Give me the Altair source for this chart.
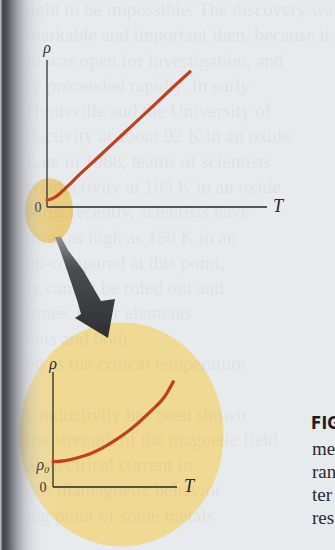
import altair as alt
import pandas as pd

PAGE = "#e8ebed"
INK = "#262626"
CURVE = "#c23f1d"
SERIF = "Liberation Serif, DejaVu Serif, serif"

# ---- data -------------------------------------------------------------
# main graph: resistivity of a metal over a wide temperature range
top_T = [0, 2, 4, 6, 8, 10, 13, 20, 30, 40, 50, 60, 65]
top_rho = [4.8, 5.5, 7.0, 9.3, 12.2, 15.0, 19.5, 29.3, 43.3, 57.2, 71.2, 85.2, 92.0]

# magnified view near T = 0: resistivity levels off at rho0
low_T = [0, 10, 20, 30, 40, 50, 60, 70, 80, 90, 97]
low_rho = [22, 23, 25.5, 29, 34, 40.5, 48, 57, 67, 78.5, 91.5]

# faint text showing through from the page behind
page_lines = [
    "ught to be impossible. The discovery was re-",
    "markable and important then, because it",
    "ld was open for investigation, and",
    "ry proceeded rapidly. In early",
    "Huntsville and the University of",
    "ductivity at about 92 K in an oxide",
    "Late in 1988, teams of scientists",
    "conductivity at 105 K in an oxide",
    "Most recently, scientists have",
    "tures as high as 150 K in an",
    "en-compared at this point,",
    "ly cannot be ruled out and",
    "times. Other elements",
    "ants and both",
    "ed as the critical temperature",
    "",
    "conductivity has been shown",
    "the strength of the magnetic field",
    "al electrical current in",
    "ous diamagnetic behavior",
    "ing point of some metals",
    "",
]

caption_head = "FIG"
caption_lines = ["me", "ran", "ter", "res"]

one = alt.Data(values=[{}])


def shape_layer(path, fill, x=0, y=0):
    return alt.Chart(one).mark_point(
        shape=path, size=4, filled=True, fill=fill, strokeWidth=0, opacity=1
    ).encode(x=alt.value(x), y=alt.value(y))


def ellipse(rx, ry):
    return (f"M {-rx} 0 A {rx} {ry} 0 1 0 {rx} 0 "
            f"A {rx} {ry} 0 1 0 {-rx} 0 Z")


def panel(T, rho, xs, ys, rho_label_dy, t_dx, zero_dx, lw):
    axes_df = pd.DataFrame({"x0": [0, 0], "x1": [100, 0],
                            "y0": [0, 0], "y1": [0, 100]})
    axes = alt.Chart(axes_df).mark_rule(color=INK, strokeWidth=1.3).encode(
        x=alt.X("x0:Q", scale=xs, axis=None), x2="x1",
        y=alt.Y("y0:Q", scale=ys, axis=None), y2="y1",
    )
    curve = alt.Chart(pd.DataFrame({"T": T, "rho": rho})).mark_line(
        color=CURVE, strokeWidth=lw, strokeCap="round", interpolate="monotone"
    ).encode(
        x=alt.X("T:Q", scale=xs, axis=None),
        y=alt.Y("rho:Q", scale=ys, axis=None),
    )

    def label(text, tx, ry, size, italic, **kw):
        return alt.Chart(pd.DataFrame({"T": [tx], "rho": [ry]})).mark_text(
            text=text, font=SERIF, fontSize=size, color=INK,
            fontStyle="italic" if italic else "normal",
            align="center", baseline="middle", **kw
        ).encode(
            x=alt.X("T:Q", scale=xs, axis=None),
            y=alt.Y("rho:Q", scale=ys, axis=None),
        )

    layers = [
        axes, curve,
        label("ρ", 0, 100, 16, True, dy=rho_label_dy),
        label("T", 100, 0, 18, True, dx=t_dx),
        label("0", 0, 0, 14, False, dx=zero_dx, dy=1),
    ]
    return layers


top_x = alt.Scale(domain=[0, 100], range=[47, 267])
top_y = alt.Scale(domain=[0, 100], range=[207, 60])
low_x = alt.Scale(domain=[0, 100], range=[53, 177])
low_y = alt.Scale(domain=[0, 100], range=[487, 372])

top_panel = panel(top_T, top_rho, top_x, top_y, -12, 11, -9, 3.2)
low_panel = panel(low_T, low_rho, low_x, low_y, -8, 12, -10, 3.2)

rho0_label = alt.Chart(pd.DataFrame({"T": [0], "rho": [low_rho[0]]})).mark_text(
    text="ρ₀", font=SERIF, fontSize=16, fontStyle="italic", color=INK,
    align="center", baseline="middle", dx=-10, dy=3,
).encode(
    x=alt.X("T:Q", scale=low_x, axis=None),
    y=alt.Y("rho:Q", scale=low_y, axis=None),
)

# magnifier discs
big_disc = shape_layer(ellipse(102, 112), "#f0d993", 121.5, 434.5)
small_disc = shape_layer(ellipse(24, 32.5), "#e9cd7e", 49, 210.5)

# text bleeding through the paper
bleed = alt.Chart(pd.DataFrame({"row": list(range(len(page_lines))),
                                "line": page_lines})).mark_text(
    align="left", baseline="middle", font=SERIF, fontSize=19,
    color="#4f5d6b", opacity=0.06,
).encode(
    x=alt.value(26),
    y=alt.Y("row:Q", scale=alt.Scale(domain=[0, 21], range=[10, 541]), axis=None),
    text="line:N",
)

# pointer from the small disc to the magnified view
arrow_path = ("M 55 237 L 61 237 L 68 250 L 83 270 L 101 301 L 115 299 "
              "L 108 338 L 75 318 L 81 314 L 77 300 L 67 270 L 60 250 Z")
arrow = shape_layer(
    arrow_path,
    alt.LinearGradient(
        gradient="linear", x1=0, y1=0, x2=0, y2=1,
        stops=[alt.GradientStop(offset=0, color="#8e9195"),
               alt.GradientStop(offset=0.3, color="#4b4d51"),
               alt.GradientStop(offset=1, color="#2e3033")],
    ),
)

# figure caption at the right margin
cap_head = alt.Chart(one).mark_text(
    text=caption_head, font="Liberation Sans Narrow, DejaVu Sans Condensed, sans-serif",
    fontWeight="bold", fontSize=17, color="#1f1f1f", align="left", baseline="middle",
).encode(x=alt.value(311), y=alt.value(424))

cap_body = alt.Chart(pd.DataFrame({"row": list(range(len(caption_lines))),
                                   "line": caption_lines})).mark_text(
    align="left", baseline="middle", font=SERIF, fontSize=19, color="#2a2a2a",
).encode(
    x=alt.value(312),
    y=alt.Y("row:Q", scale=alt.Scale(domain=[0, 3], range=[449, 518]), axis=None),
    text="line:N",
)

# shadow of the book's gutter
gutter = alt.Chart(one).mark_rect(
    color=alt.LinearGradient(
        gradient="linear", x1=0, y1=0, x2=1, y2=0,
        stops=[alt.GradientStop(offset=0, color="rgba(185,186,190,0.7)"),
               alt.GradientStop(offset=0.05, color="rgba(48,48,55,0.92)"),
               alt.GradientStop(offset=0.14, color="rgba(62,62,70,0.85)"),
               alt.GradientStop(offset=0.32, color="rgba(115,117,124,0.6)"),
               alt.GradientStop(offset=0.52, color="rgba(175,178,184,0.35)"),
               alt.GradientStop(offset=0.75, color="rgba(215,218,222,0.12)"),
               alt.GradientStop(offset=1, color="rgba(232,235,237,0)")],
    )
).encode(x=alt.value(0), x2=alt.value(55), y=alt.value(0), y2=alt.value(550))

chart = alt.layer(
    big_disc, small_disc, bleed, arrow,
    *top_panel, *low_panel, rho0_label,
    cap_head, cap_body, gutter,
).resolve_scale(
    x="independent", y="independent"
).properties(
    width=335, height=550, padding=0, background=PAGE,
    autosize=alt.AutoSizeParams(type="none"),
).configure_view(stroke=None)

chart.save("out.html", embed_options={"renderer": "svg", "actions": False})
